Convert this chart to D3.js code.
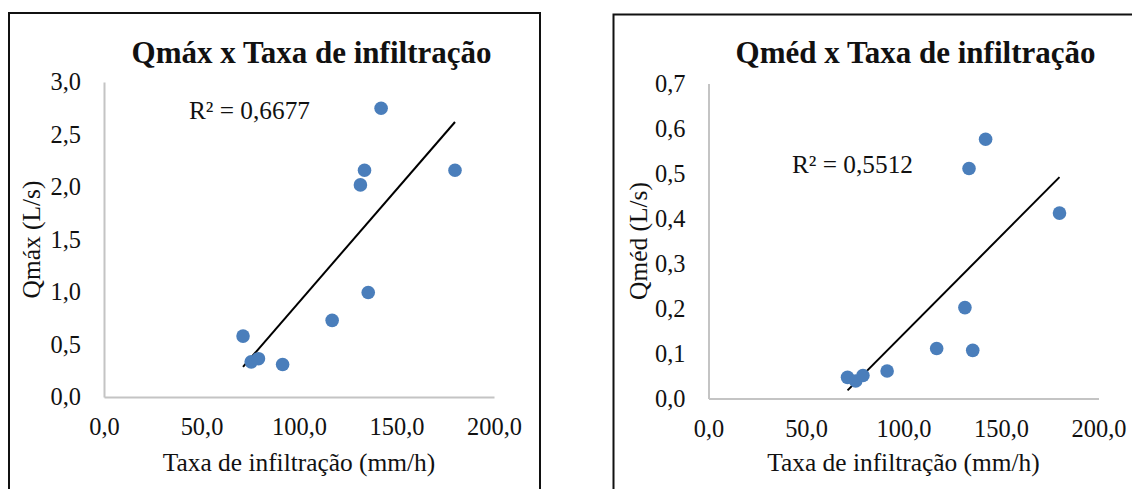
<!DOCTYPE html>
<html>
<head>
<meta charset="utf-8">
<script src="https://cdn.jsdelivr.net/npm/d3@7"></script>
<style>
  body { margin: 0; background: #fff; }
  svg text { font-family: "Liberation Serif", "Times New Roman", serif; fill: #111; }
</style>
</head>
<body>
<svg id="charts" width="1132" height="489"></svg>
<script>
// data (same infiltration values in both)
var infiltration = [71.3, 75.5, 79.2, 91.6, 117.0, 131.5, 133.6, 135.5, 142.1, 180.0];
var qmax = [0.58, 0.335, 0.365, 0.31, 0.73, 2.02, 2.16, 0.995, 2.75, 2.16];
var qmed = [0.047, 0.039, 0.051, 0.061, 0.111, 0.202, 0.511, 0.107, 0.576, 0.412];

var xTicks = [0, 50, 100, 150, 200];
var qmaxTicks = [0, 0.5, 1.0, 1.5, 2.0, 2.5, 3.0];
var qmedTicks = [0, 0.1, 0.2, 0.3, 0.4, 0.5, 0.6, 0.7];

var titles = ["Qmáx x Taxa de infiltração", "Qméd x Taxa de infiltração"];
var yLabels = ["Qmáx (L/s)", "Qméd (L/s)"];
var xLabel = "Taxa de infiltração (mm/h)";
var r2Labels = ["R² = 0,6677", "R² = 0,5512"];

var ptBr = d3.formatLocale({decimal: ",", thousands: ".", grouping: [3], currency: ["R$", ""]});
var fmt = ptBr.format(".1f");

// least squares line through the points
function linearFit(xs, ys) {
  var mx = d3.mean(xs), my = d3.mean(ys);
  var sxy = d3.sum(xs, (x, i) => (x - mx) * (ys[i] - my));
  var sxx = d3.sum(xs, x => (x - mx) * (x - mx));
  var slope = sxy / sxx;
  return {slope: slope, intercept: my - slope * mx};
}

function drawScatter(svg, opt) {
  var g = svg.append("g");

  g.append("rect")
    .attr("x", opt.box[0]).attr("y", opt.box[1])
    .attr("width", opt.box[2] - opt.box[0]).attr("height", opt.box[3] - opt.box[1])
    .attr("fill", "none").attr("stroke", "#111").attr("stroke-width", 2);

  var x = d3.scaleLinear().domain([0, 200]).range([opt.left, opt.right]);
  var y = d3.scaleLinear().domain([0, d3.max(opt.yTicks)]).range([opt.bottom, opt.top]);

  var xAxis = g.append("g")
    .attr("transform", `translate(0,${opt.bottom})`)
    .call(d3.axisBottom(x).tickValues(xTicks).tickFormat(fmt).tickSize(0).tickPadding(21));
  var yAxis = g.append("g")
    .attr("transform", `translate(${opt.left},0)`)
    .call(d3.axisLeft(y).tickValues(opt.yTicks).tickFormat(fmt).tickSize(0).tickPadding(23));

  [xAxis, yAxis].forEach(a => {
    a.select(".domain").attr("stroke", "#c4c4c4").attr("stroke-width", 2);
    a.selectAll("text").attr("font-size", 24.4).attr("fill", "#111")
      .attr("font-family", "Liberation Serif, Times New Roman, serif");
  });

  g.append("text")
    .attr("x", opt.titleX).attr("y", 63)
    .attr("text-anchor", "middle")
    .attr("font-size", 31).attr("font-weight", "bold")
    .text(opt.title);

  g.append("text")
    .attr("x", (opt.left + opt.right) / 2).attr("y", 470.5)
    .attr("text-anchor", "middle").attr("font-size", 25.4)
    .text(xLabel);

  g.append("text")
    .attr("transform", `translate(${opt.yLabelX},${(opt.top + opt.bottom) / 2}) rotate(-90)`)
    .attr("text-anchor", "middle").attr("font-size", 25.4)
    .text(opt.yLabel);

  // trendline over the range of the data
  var fit = linearFit(infiltration, opt.values);
  var ext = d3.extent(infiltration);
  g.append("line")
    .attr("x1", x(ext[0])).attr("y1", y(fit.slope * ext[0] + fit.intercept))
    .attr("x2", x(ext[1])).attr("y2", y(fit.slope * ext[1] + fit.intercept))
    .attr("stroke", "#000").attr("stroke-width", 2);

  g.append("g").selectAll("circle")
    .data(infiltration.map((d, i) => ({x: d, y: opt.values[i]})))
    .join("circle")
    .attr("cx", d => x(d.x))
    .attr("cy", d => y(d.y))
    .attr("r", 6.8)
    .attr("fill", "#4a7ebb");

  g.append("text")
    .attr("x", opt.r2X).attr("y", opt.r2Y)
    .attr("font-size", 25.3)
    .text(opt.r2);
}

var svg = d3.select("#charts");

drawScatter(svg, {
  title: titles[0], yLabel: yLabels[0], r2: r2Labels[0],
  values: qmax, yTicks: qmaxTicks,
  box: [9, 13, 540, 520],
  left: 104, right: 494, top: 82, bottom: 397,
  titleX: 311.5, yLabelX: 39.5, r2X: 189, r2Y: 119
});

drawScatter(svg, {
  title: titles[1], yLabel: yLabels[1], r2: r2Labels[1],
  values: qmed, yTicks: qmedTicks,
  box: [613.5, 14.5, 1160, 520],
  left: 708.5, right: 1098.5, top: 83.5, bottom: 398.5,
  titleX: 915.5, yLabelX: 646.5, r2X: 792, r2Y: 172.5
});
</script>
</body>
</html>
